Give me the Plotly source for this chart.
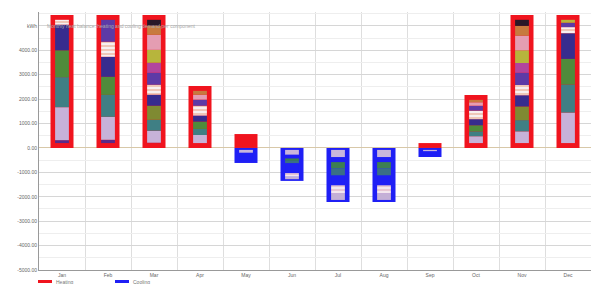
import numpy as np
import plotly.graph_objects as go

months = ["Jan", "Feb", "Mar", "Apr", "May", "Jun", "Jul", "Aug", "Sep", "Oct", "Nov", "Dec"]

heating_total = [5450, 5450, 5450, 2540, 570, 0, 0, 0, 200, 2170, 5450, 5450]
cooling_total = [0, 0, 0, 0, -615, -1350, -2210, -2210, -370, 0, 0, 0]

# heating components, bottom to top
h_base_purple = [120, 135, 15, 0, 0, 0, 0, 0, 0, 0, 0, 0]
h_lavender = [1350, 940, 490, 330, 0, 0, 0, 0, 0, 280, 480, 1250]
h_teal = [1230, 900, 450, 250, 0, 0, 0, 0, 0, 200, 460, 1150]
h_green = [1100, 740, 0, 300, 0, 0, 0, 0, 0, 250, 0, 1050]
h_olive = [0, 0, 575, 0, 0, 0, 0, 0, 0, 0, 560, 0]
h_darkblue = [1050, 820, 450, 250, 0, 0, 0, 0, 0, 250, 460, 1050]
h_stripes = [200, 615, 410, 400, 0, 0, 0, 0, 0, 350, 420, 250]
h_purple = [0, 900, 490, 250, 0, 0, 0, 0, 0, 200, 500, 180]
h_magenta = [0, 0, 410, 0, 0, 0, 0, 0, 0, 0, 400, 0]
h_yellow = [0, 0, 530, 0, 0, 0, 0, 0, 0, 0, 520, 120]
h_pink = [0, 0, 615, 200, 0, 0, 0, 0, 0, 140, 600, 0]
h_orange = [0, 0, 370, 160, 0, 0, 0, 0, 0, 100, 400, 0]
h_black = [0, 0, 245, 0, 0, 0, 0, 0, 0, 0, 250, 0]

# cooling components, top (near zero) to bottom
c_lavender = [0, 0, 0, 0, -120, -200, -300, -300, -60, 0, 0, 0]
c_blue1 = [0, 0, 0, 0, -150, -150, -200, -200, -100, 0, 0, 0]
c_green = [0, 0, 0, 0, 0, -100, -250, -250, 0, 0, 0, 0]
c_teal = [0, 0, 0, 0, 0, -100, -300, -300, 0, 0, 0, 0]
c_blue2 = [0, 0, 0, 0, -150, -400, -400, -400, -100, 0, 0, 0]
c_stripes = [0, 0, 0, 0, 0, -150, -350, -350, 0, 0, 0, 0]
c_lavender2 = [0, 0, 0, 0, 0, -100, -250, -250, 0, 0, 0, 0]

yticks = [-5000, -4000, -3000, -2000, -1000, 0, 1000, 2000, 3000, 4000, 5000]
legend_names = ["Heating", "Cooling"]

RED = "#f0141e"
BLUE = "#1f1ff5"

x = np.arange(len(months))
fig = go.Figure()

fig.add_trace(go.Bar(x=x, y=heating_total, width=0.5, name=legend_names[0], showlegend=False,
                     marker=dict(color=RED, line=dict(width=0))))
fig.add_trace(go.Bar(x=x, y=cooling_total, width=0.5, name=legend_names[1], showlegend=False,
                     marker=dict(color=BLUE, line=dict(width=0))))

pad_h = 200
heat_parts = [
    (h_base_purple, "#5a2a88", None),
    (h_lavender, "#c7b2d8", None),
    (h_teal, "#3f7f84", None),
    (h_green, "#4f8b3b", None),
    (h_olive, "#7f8a32", None),
    (h_darkblue, "#372c8e", None),
    (h_stripes, "#f7f0f0", "#e07a50"),
    (h_purple, "#5d3aa6", None),
    (h_magenta, "#b2449e", None),
    (h_yellow, "#b7b53c", None),
    (h_pink, "#e49db2", None),
    (h_orange, "#c77a3e", None),
    (h_black, "#2a1828", None),
]
base = np.where(np.array(heating_total) > 0, pad_h, 0).astype(float)
for vals, col, stripe in heat_parts:
    v = np.array(vals, dtype=float)
    mk = dict(color=col, line=dict(width=0))
    if stripe:
        mk["pattern"] = dict(shape="-", fgcolor=stripe, bgcolor=col, size=4, solidity=0.35)
    fig.add_trace(go.Bar(x=x, y=v, base=base, width=0.3, marker=mk,
                         showlegend=False, hoverinfo="skip"))
    base = base + v

pad_c = 80
cool_parts = [
    (c_lavender, "#c9b6dc", None),
    (c_blue1, BLUE, None),
    (c_green, "#3d7f52", None),
    (c_teal, "#3a6f86", None),
    (c_blue2, BLUE, None),
    (c_stripes, "#f3e6ee", "#d08aa0"),
    (c_lavender2, "#c4b0d6", None),
]
base = np.where(np.array(cooling_total) < 0, -pad_c, 0).astype(float)
for vals, col, stripe in cool_parts:
    v = np.array(vals, dtype=float)
    mk = dict(color=col, line=dict(width=0))
    if stripe:
        mk["pattern"] = dict(shape="-", fgcolor=stripe, bgcolor=col, size=4, solidity=0.35)
    fig.add_trace(go.Bar(x=x, y=v, base=base, width=0.3, marker=mk,
                         showlegend=False, hoverinfo="skip"))
    base = base + v

ytext = ["kWh" if t == 5000 else ("0.00" if t == 0 else f"{t:.2f}") for t in yticks]

# small legend drawn in the bottom margin
legend_shapes = []
legend_ann = []
for i, (nm, col) in enumerate(zip(legend_names, [RED, BLUE])):
    x0 = 38 + i * 77
    legend_shapes.append(dict(type="rect", xref="paper", yref="paper",
                              x0=(x0 - 39) / 552, x1=(x0 + 14 - 39) / 552,
                              y0=-(280 - 270) / 258, y1=-(283 - 270) / 258,
                              fillcolor=col, line=dict(width=0), layer="above"))
    legend_ann.append(dict(text=nm, xref="paper", yref="paper",
                           x=(x0 + 16 - 39) / 552, y=-(281.5 - 270) / 258,
                           xanchor="left", yanchor="middle", showarrow=False,
                           font=dict(size=5, color="#777")))

fig.update_layout(
    width=594, height=284,
    margin=dict(l=39, r=3, t=12, b=14, autoexpand=False),
    barmode="overlay",
    showlegend=False,
    plot_bgcolor="white", paper_bgcolor="white",
    font=dict(family="Liberation Sans, Arial, sans-serif", size=5, color="#666"),
    xaxis=dict(range=[-0.5, len(months) - 0.5], tickmode="array", tickvals=x, ticktext=months,
               showgrid=False, showline=True, linecolor="#999", linewidth=1,
               ticks="", tickfont=dict(size=5, color="#666"), automargin=False,
               minor=dict(tickmode="linear", tick0=-0.5, dtick=1, showgrid=True,
                          gridcolor="#dedede", gridwidth=1)),
    yaxis=dict(range=[-5000, 5570], tickmode="array", tickvals=yticks, ticktext=ytext,
               showgrid=True, gridcolor="#d6d6d6", gridwidth=1,
               zeroline=True, zerolinecolor="#d8c8a8", zerolinewidth=1,
               showline=True, linecolor="#999", linewidth=1, automargin=False,
               tickfont=dict(size=5, color="#666"), ticks="",
               minor=dict(tickmode="linear", tick0=0, dtick=500, showgrid=True,
                          gridcolor="#eeeeee", gridwidth=1)),
    shapes=legend_shapes,
    annotations=[dict(text="Monthly heat balance: heating and cooling demand per component",
                      xref="paper", yref="y", x=0.01, y=5000, xanchor="left", yanchor="middle",
                      showarrow=False, font=dict(size=5, color="#aaa"))] + legend_ann,
)

fig.write_html("out.html", config={"displayModeBar": False, "staticPlot": True},
               post_script="document.body.style.margin='0';document.body.style.overflow='hidden';")
